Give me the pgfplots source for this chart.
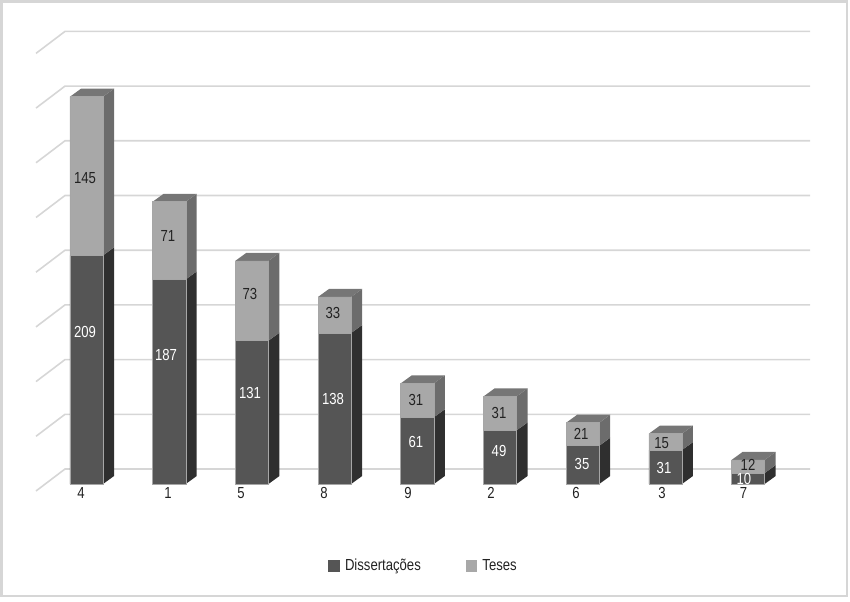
\documentclass[border=0pt]{standalone}
\usepackage{fontspec}
\setmainfont{Liberation Sans}[FakeStretch=0.82]
\usepackage{pgfplots}
\pgfplotsset{compat=1.18}
\definecolor{darkF}{HTML}{555555}
\definecolor{darkS}{HTML}{2F2F2F}
\definecolor{lightF}{HTML}{A8A8A8}
\definecolor{lightS}{HTML}{6C6C6C}
\definecolor{topF}{HTML}{767676}
\definecolor{gridc}{HTML}{D6D6D6}
\definecolor{txt}{HTML}{222222}
\pgfplotsset{
  base/.style={
    scale only axis, width=850pt, height=601pt,
    xmin=-1.04595, xmax=9.2322, ymin=-106.95, ymax=442.4,
    clip=false, axis line style={draw=none}, tick style={draw=none},
    ytick=\empty, xtick=\empty,
    font=\fontsize{16}{18}\selectfont,
  },
  lab/.style={
    only marks, mark=none, nodes near coords, point meta=explicit symbolic,
    every node near coord/.append style={anchor=center, inner sep=0pt, text=#1,
      font=\fontsize{16}{18}\selectfont},
  },
}
% x, low, high, colour: side face of one segment
\newcommand{\sideface}[4]{%
  \pgfmathsetmacro{\xa}{#1+0.2}\pgfmathsetmacro{\xb}{#1+0.333}%
  \pgfmathsetmacro{\yb}{#2+7.3}\pgfmathsetmacro{\yc}{#3+7.3}%
  \addplot[fill=#4, draw=none, mark=none] coordinates {(\xa,#2) (\xb,\yb) (\xb,\yc) (\xa,#3)} -- cycle;
}
% x, top: top face of one bar
\newcommand{\topface}[2]{%
  \pgfmathsetmacro{\xa}{#1-0.2}\pgfmathsetmacro{\xb}{#1-0.067}%
  \pgfmathsetmacro{\xc}{#1+0.333}\pgfmathsetmacro{\xd}{#1+0.2}%
  \pgfmathsetmacro{\yb}{#2+7.3}%
  \addplot[fill=topF, draw=none, mark=none] coordinates {(\xa,#2) (\xb,\yb) (\xc,\yb) (\xd,#2)} -- cycle;
}
% level: one gridline along wall and back
\newcommand{\gridlevel}[1]{%
  \pgfmathsetmacro{\ya}{#1-6.4}\pgfmathsetmacro{\yb}{#1+13.7}%
  \addplot[gridc, line width=1.6pt, mark=none] coordinates {(-0.6107,\ya) (-0.26,\yb) (8.749,\yb)};
}
\begin{document}
\begin{tikzpicture}
\begin{axis}[base]
  \draw[gridc, line width=2.2pt] (rel axis cs:0.0018,0.0083) rectangle (rel axis cs:0.9965,0.9975);
  \gridlevel{0}\gridlevel{50}\gridlevel{100}\gridlevel{150}\gridlevel{200}
  \gridlevel{250}\gridlevel{300}\gridlevel{350}\gridlevel{400}
  \sideface{0}{0}{209}{darkS}\sideface{0}{209}{354}{lightS}\topface{0}{354}
  \sideface{1}{0}{187}{darkS}\sideface{1}{187}{258}{lightS}\topface{1}{258}
  \sideface{2}{0}{131}{darkS}\sideface{2}{131}{204}{lightS}\topface{2}{204}
  \sideface{3}{0}{138}{darkS}\sideface{3}{138}{171}{lightS}\topface{3}{171}
  \sideface{4}{0}{61}{darkS}\sideface{4}{61}{92}{lightS}\topface{4}{92}
  \sideface{5}{0}{49}{darkS}\sideface{5}{49}{80}{lightS}\topface{5}{80}
  \sideface{6}{0}{35}{darkS}\sideface{6}{35}{56}{lightS}\topface{6}{56}
  \sideface{7}{0}{31}{darkS}\sideface{7}{31}{46}{lightS}\topface{7}{46}
  \sideface{8}{0}{10}{darkS}\sideface{8}{10}{22}{lightS}\topface{8}{22}
\end{axis}
\begin{axis}[base,
  ybar stacked, bar width=33.2pt,
  xtick={-0.0665,0.9855,1.868,2.872,3.887,4.89,5.919,6.959,7.944},
  xticklabels={4,1,5,8,9,2,6,3,7},
  xticklabel style={anchor=center, yshift=108pt, text=txt},
  legend columns=2,
  legend style={at={(0.4983,0.0585)}, anchor=center, draw=none, fill=none,
    font=\fontsize{16}{18}\selectfont, text=txt,
    /tikz/column 1/.style={column sep=3pt},
    /tikz/column 2/.style={column sep=43pt},
    /tikz/column 3/.style={column sep=3pt}},
  legend image code/.code={\fill[#1,draw=none] (0pt,-5.8pt) rectangle (11.6pt,5.8pt);},
]
  \addplot[fill=darkF, draw=gray!70, line width=0.5pt] coordinates
    {(0,209) (1,187) (2,131) (3,138) (4,61) (5,49) (6,35) (7,31) (8,10)};
  \addlegendentry{Dissertações}
  \addplot[fill=lightF, draw=gray!70, line width=0.5pt] coordinates
    {(0,145) (1,71) (2,73) (3,33) (4,31) (5,31) (6,21) (7,15) (8,12)};
  \addlegendentry{Teses}
\end{axis}
\begin{axis}[base]
  \addplot[lab=white] coordinates {
    (-0.018,138.9)[209] (0.961,117.9)[187] (1.977,83.2)[131] (2.98,77.7)[138]
    (3.984,38.4)[61] (4.988,30.2)[49] (5.992,18.3)[35] (6.983,14.6)[31] (7.95,4.9)[10]};
  \addplot[lab=txt] coordinates {
    (-0.018,279.7)[145] (0.985,226.7)[71] (1.977,173.7)[73] (2.98,156.3)[33]
    (3.984,76.8)[31] (4.988,64.9)[31] (5.98,45.7)[21] (6.955,37.8)[15] (7.999,17.4)[12]};
\end{axis}
\end{tikzpicture}
\end{document}
